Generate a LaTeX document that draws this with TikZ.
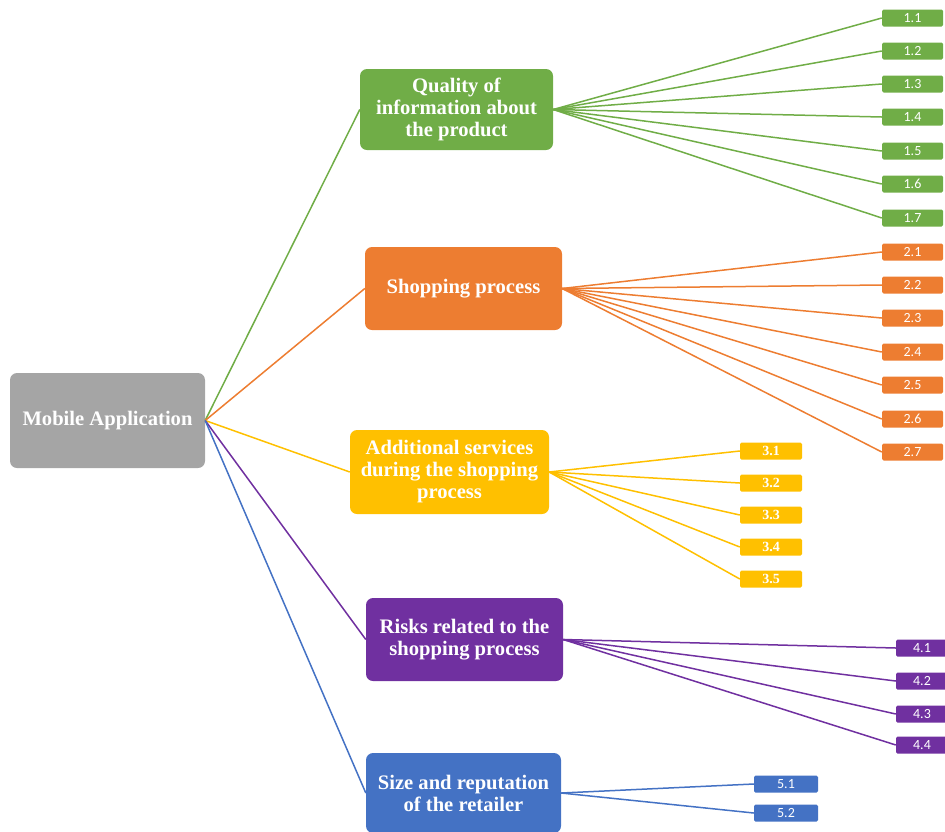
\documentclass[tikz,border=0pt]{standalone}
\usepackage{fontspec}
\setmainfont{Liberation Serif}
\newfontfamily\leaffont{Carlito}
\definecolor{cgreen}{HTML}{70AD47}
\definecolor{corange}{HTML}{ED7D31}
\definecolor{cyellow}{HTML}{FFC000}
\definecolor{cpurple}{HTML}{7030A0}
\definecolor{cblue}{HTML}{4472C4}
\definecolor{cgrey}{HTML}{A5A5A5}
\begin{document}
\begin{tikzpicture}[x=1pt,y=-1pt,
  cat/.style={rounded corners=7pt, fill=#1, text=white, font=\fontsize{20.6}{22}\selectfont\bfseries, align=center, inner sep=0pt},
  leaf/.style={fill=#1, text=white, font=\leaffont\fontsize{14}{14}\selectfont, minimum height=17pt, inner sep=0pt, rounded corners=1.5pt},
  conn/.style={draw=#1, line width=1.5pt}]
\useasboundingbox (0,0) rectangle (945,831);
\node[cat=cgrey, minimum width=195pt, minimum height=95pt] (m) at (107.5,420.5) {Mobile Application};
\node[cat=cgreen, minimum width=193pt, minimum height=81pt] (q) at (456.5,109.5) {Quality of\\information about\\the product};
\node[cat=corange, minimum width=197pt, minimum height=83pt] (s) at (463.5,288.5) {Shopping process};
\node[cat=cyellow, minimum width=199pt, minimum height=84pt] (a) at (449.5,472) {Additional services\\during the shopping\\process};
\node[cat=cpurple, minimum width=197pt, minimum height=83pt] (r) at (464.5,639.5) {Risks related to the\\shopping process};
\node[cat=cblue, minimum width=195pt, minimum height=80pt] (z) at (463.5,793) {Size and reputation\\of the retailer};
\draw[conn=cgreen] (m.east) -- (q.west);
\draw[conn=corange] (m.east) -- (s.west);
\draw[conn=cyellow] (m.east) -- (a.west);
\draw[conn=cpurple] (m.east) -- (r.west);
\draw[conn=cblue] (m.east) -- (z.west);
\foreach \i/\y in {1/18,2/51,3/84,4/117,5/151,6/184,7/218} {
  \node[leaf=cgreen, minimum width=61pt] (g\i) at (912.5,\y) {1.\i};
  \draw[conn=cgreen] (q.east) -- (g\i.west);
}
\foreach \i/\y in {1/252,2/285,3/318,4/352,5/385,6/419,7/452} {
  \node[leaf=corange, minimum width=61pt] (o\i) at (912.5,\y) {2.\i};
  \draw[conn=corange] (s.east) -- (o\i.west);
}
\foreach \i/\y in {1/451,2/483,3/515,4/547,5/579} {
  \node[leaf=cyellow, minimum width=62pt, font=\fontsize{14}{14}\selectfont\bfseries] (y\i) at (771,\y) {3.\i};
  \draw[conn=cyellow] (a.east) -- (y\i.west);
}
\foreach \i/\y in {1/648,2/681,3/714,4/745} {
  \node[leaf=cpurple, minimum width=52pt] (p\i) at (922,\y) {4.\i};
  \draw[conn=cpurple] (r.east) -- (p\i.west);
}
\foreach \i/\y in {1/784,2/813} {
  \node[leaf=cblue, minimum width=64pt] (b\i) at (786,\y) {5.\i};
  \draw[conn=cblue] (z.east) -- (b\i.west);
}
\end{tikzpicture}
\end{document}
